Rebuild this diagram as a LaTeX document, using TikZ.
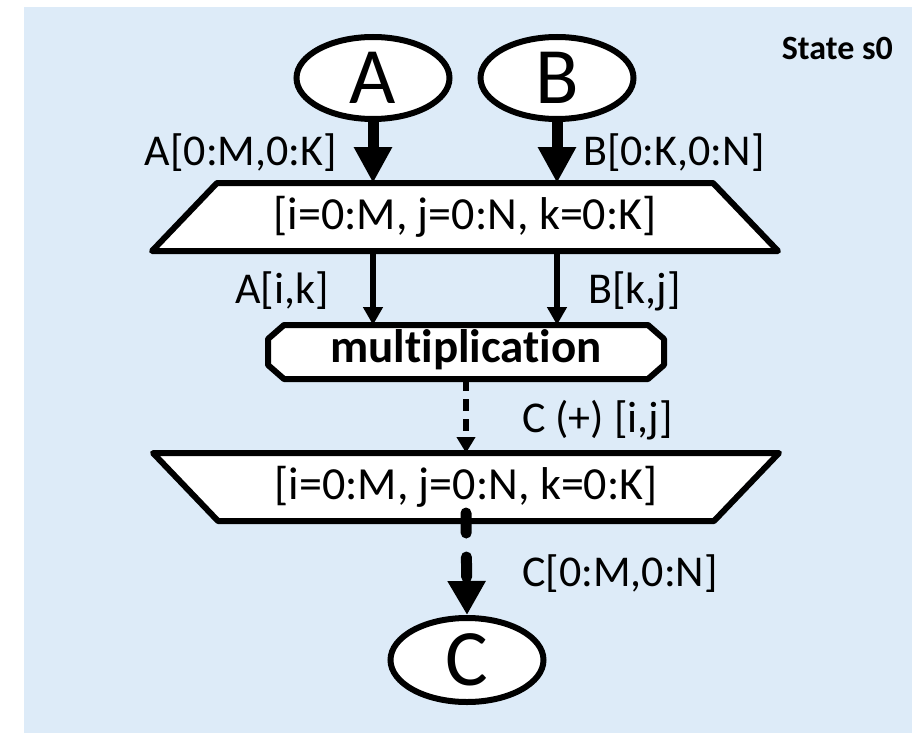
\documentclass[tikz,border=0pt]{standalone}
\usepackage{fontspec}
\setmainfont[Ligatures=NoCommon]{Carlito}
\usetikzlibrary{shapes.geometric,arrows.meta}
\definecolor{bgblue}{HTML}{DDEBF8}
\tikzset{
  lbl/.style={font=\fontsize{44}{48}\selectfont, inner sep=0pt},
  boxtxt/.style={font=\fontsize{46}{50}\selectfont, inner sep=0pt},
  bigletter/.style={ellipse, draw, line width=6pt, fill=white, minimum width=153pt, minimum height=82pt, inner sep=0pt, font=\fontsize{80}{84}\selectfont},
  frame/.style={draw, line width=6pt, fill=white, line join=round},
  thickarrow/.style={line width=11pt, -{Triangle[length=36pt,width=36pt]}},
  thinarrow/.style={line width=6pt, -{Triangle[length=18pt,width=19pt]}},
  thindash/.style={line width=6pt, dash pattern=on 12pt off 8pt, -{Triangle[length=16pt,width=18pt]}},
  thickdash/.style={line width=11pt, line cap=round, dash pattern=on 20pt off 24pt, -{Triangle[length=34pt,width=36pt,line cap=butt]}},
  shapebox/.style={inner sep=0pt, outer sep=0pt}
}
\begin{document}
\begin{tikzpicture}[x=1pt,y=-1pt]
\useasboundingbox (0,0) rectangle (912,733);
\fill[bgblue] (24,7) rectangle (912,733);

\node[font=\fontsize{34}{38}\selectfont\bfseries, anchor=east, inner sep=0pt] (state) at (893,48) {State s0};

% input ellipses
\node[bigletter] (A) at (373,78) {A};
\node[bigletter] (B) at (557,78) {B};

% top trapezoid (map entry)
\node[shapebox, minimum width=626pt, minimum height=68pt] (t1) at (465,217) {};
\draw[frame] ([xshift=65pt]t1.north west) -- ([xshift=-65pt]t1.north east) -- (t1.south east) -- (t1.south west) -- cycle;
\node[boxtxt] (t1txt) at (t1) {[i=0:M, j=0:N, k=0:K]};

% multiplication tasklet
\node[shapebox, minimum width=396pt, minimum height=54pt] (m) at (466,352) {};
\draw[frame] ([xshift=16pt]m.north west) -- ([xshift=-16pt]m.north east) -- ([yshift=-14pt]m.north east) -- ([yshift=14pt]m.south east) -- ([xshift=-16pt]m.south east) -- ([xshift=16pt]m.south west) -- ([yshift=14pt]m.south west) -- ([yshift=-14pt]m.north west) -- cycle;
\node[font=\fontsize{47}{50}\selectfont\bfseries, inner sep=0pt] (mtxt) at (466,350) {multiplication};

% bottom trapezoid (map exit)
\node[shapebox, minimum width=626pt, minimum height=68pt] (t2) at (466,487) {};
\draw[frame] (t2.north west) -- (t2.north east) -- ([xshift=-65pt]t2.south east) -- ([xshift=65pt]t2.south west) -- cycle;
\node[boxtxt] (t2txt) at (t2) {[i=0:M, j=0:N, k=0:K]};

% output ellipse
\node[bigletter, minimum height=84pt] (C) at (467,660) {C};

% connectors
\draw[thickarrow] (A.south) -- (A.south |- t1.north);
\draw[thickarrow] (B.south) -- (B.south |- t1.north);
\draw[thinarrow] (A.south |- t1.south) -- (A.south |- m.north);
\draw[thinarrow] (B.south |- t1.south) -- (B.south |- m.north);
\draw[thindash] (m.south) -- (t2.north);
\draw[thickdash] ([yshift=8pt]t2.south) -- (C.north);

% labels
\node[lbl, anchor=east] (la) at (337,153) {A[0:M,0:K]};
\node[lbl, anchor=west] (lb) at (583,153) {B[0:K,0:N]};
\node[lbl, anchor=east] (lak) at (329,291) {A[i,k]};
\node[lbl, anchor=west] (lbk) at (588,291) {B[k,j]};
\node[lbl, anchor=west] (lc) at (522,420) {C (+) [i,j]};
\node[lbl, anchor=west] (lco) at (522,574) {C[0:M,0:N]};
\end{tikzpicture}
\end{document}
